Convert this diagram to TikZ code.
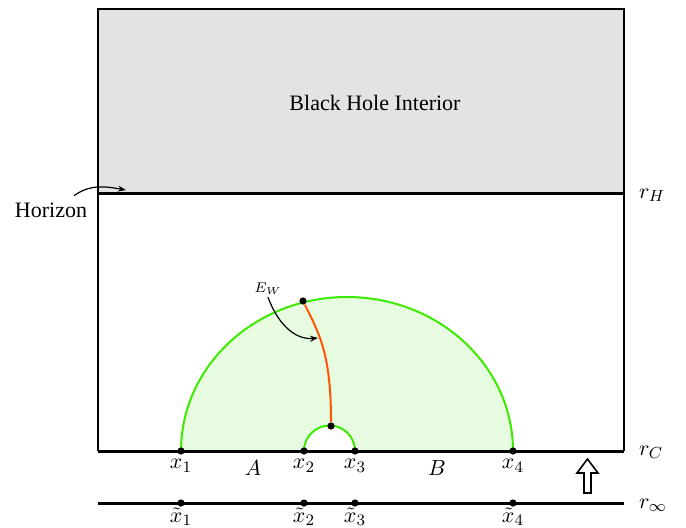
\documentclass[tikz,border=0pt]{standalone}
\usepackage{amsmath}
\usepackage{fontspec}
\setmainfont{Liberation Serif}
\usepackage{xcolor}
\usetikzlibrary{arrows.meta,positioning,calc}

\definecolor{rtgreen}{RGB}{60,235,0}
\definecolor{rtfill}{RGB}{230,251,224}
\definecolor{ewline}{RGB}{255,85,0}

\begin{document}
\begin{tikzpicture}[
    x=0.5pt, y=-0.5pt,
    font=\fontsize{11}{13}\selectfont,
    wall/.style={line width=1.3pt},
    slice/.style={line width=1.5pt},
    surface/.style={rtgreen, line width=1pt},
    pt/.style={circle, fill=black, inner sep=0pt, minimum size=3.6pt},
    lbl/.style={inner sep=1.5pt},
    tlbl/.style={inner sep=0pt},
    pointer/.style={-{Stealth[length=4pt]}, line width=0.6pt},
]
    \useasboundingbox (0,0) rectangle (686,527);

    % Interior
    \fill[black!11] (98,9) rectangle (624,193);
    \node (bhi) at (375,103) {Black Hole Interior};

    % Boundary points
    \coordinate (x1) at (181,451);
    \coordinate (x2) at (304,451);
    \coordinate (x3) at (355,451);
    \coordinate (x4) at (513,451);
    \coordinate (t1) at (181,503);
    \coordinate (t2) at (304,503);
    \coordinate (t3) at (355,503);
    \coordinate (t4) at (513,503);

    % Entanglement wedge
    \fill[rtfill] (x1) arc[start angle=180, end angle=360, x radius=166, y radius=154]
        -- (x3) arc[start angle=0, end angle=-180, radius=25.5] -- cycle;
    \draw[surface] (x1) arc[start angle=180, end angle=360, x radius=166, y radius=154];
    \draw[surface] (x3) arc[start angle=0, end angle=-180, radius=25.5];

    % Frame and slices
    \draw[wall] (98,451) -- (98,9) -- (624,9) -- (624,451);
    \draw[slice] (98,193) -- (624,193);
    \draw[slice] (98,451) -- (624,451);
    \draw[slice] (98,503) -- (624,503);

    % Cross section
    \node[pt] (ewtop) at (303,301) {};
    \node[pt] (ewbot) at (331,426) {};
    \draw[ewline, line width=1pt] (ewbot) .. controls (331,355) and (320,335) .. (ewtop);

    \node[font=\scriptsize, inner sep=1pt] (ew) at (268,289) {$E_W$};
    \coordinate (ewtip) at (318,338);
    \draw[pointer] (ew.south) to[out=-70, in=185] (ewtip);

    \node (hor) at (51,210) {Horizon};
    \coordinate (hortip) at (126,190);
    \draw[pointer] ($(hor.north east)+(-20,0)$) to[out=35, in=170] (hortip);

    % Points on the boundaries
    \foreach \p in {x1,x2,x3,x4,t1,t2,t3,t4}
        \node[pt] at (\p) {};
    \node[lbl, below=2.5pt of x1] (lx1) {$x_1$};
    \node[lbl, below=2.5pt of x2] (lx2) {$x_2$};
    \node[lbl, below=2.5pt of x3] (lx3) {$x_3$};
    \node[lbl, below=2.5pt of x4] (lx4) {$x_4$};
    \node[tlbl, below=2pt of t1] (lt1) {$\tilde{x}_1$};
    \node[tlbl, below=2pt of t2] (lt2) {$\tilde{x}_2$};
    \node[tlbl, below=2pt of t3] (lt3) {$\tilde{x}_3$};
    \node[tlbl, below=2pt of t4] (lt4) {$\tilde{x}_4$};
    \node (regA) at (253,468) {$A$};
    \node (regB) at (437,468) {$B$};

    % Radii
    \node[anchor=west] (rH) at (632,195) {$r_H$};
    \node[anchor=west] (rC) at (632,452) {$r_C$};
    \node[anchor=west] (rinf) at (632,505) {$r_\infty$};

    % Flow towards the cutoff
    \draw[line width=0.8pt, fill=white] (584,493) -- (584,473) -- (577,473) -- (587.5,459)
        -- (598,473) -- (591,473) -- (591,493) -- cycle;
\end{tikzpicture}
\end{document}
